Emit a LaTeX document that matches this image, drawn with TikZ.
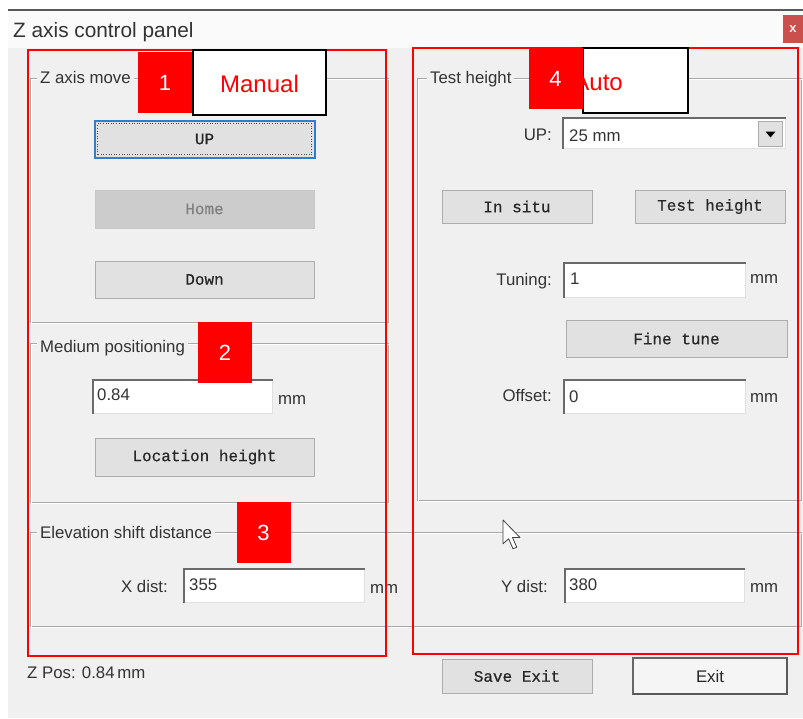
\documentclass[tikz,border=0pt]{standalone}
\usepackage{fontspec}
\setmainfont{Liberation Sans}
\newfontfamily\btnfont[FakeBold=0.5]{Liberation Mono}
\definecolor{dlgbg}{HTML}{F0F0F0}
\definecolor{titlebg}{HTML}{FAFAFA}
\definecolor{btnfill}{HTML}{E1E1E1}
\definecolor{btnedge}{HTML}{ADADAD}
\definecolor{etch}{HTML}{A8A8A8}
\definecolor{uitext}{HTML}{333333}
\definecolor{focusblue}{HTML}{2F7FCF}
\definecolor{closered}{HTML}{C9504C}
\definecolor{fieldedge}{HTML}{6A6A6A}
\definecolor{markred}{HTML}{FF0000}
\tikzset{
  uifont/.style={font=\fontsize{16.8}{19}\selectfont, text=uitext},
  uilabel/.style={uifont, inner sep=0pt},
  btnbox/.style={draw=btnedge, fill=btnfill, line width=1pt, inner sep=0pt,
    font=\btnfont\fontsize{16}{18}\selectfont, text=black!85},
  fieldbox/.style={fill=white, draw=black!12, line width=1pt, inner sep=0pt},
  groupcap/.style={uifont, fill=dlgbg, inner xsep=3pt, inner ysep=1pt, anchor=base west},
  marksq/.style={fill=markred, inner sep=0pt, minimum width=54pt, minimum height=61pt,
    text=white, font=\fontsize{22}{24}\selectfont},
  markword/.style={fill=white, draw=black, line width=1.5pt, inner sep=0pt},
  marktext/.style={text=markred, inner sep=0pt, font=\fontsize{24}{26}\selectfont},
  redframe/.style={draw=markred, line width=1.5pt},
}
\newcommand{\etchedbox}[2]{%
  \draw[etch, line width=1pt] #1 rectangle #2;
  \draw[white, line width=1pt, shift={(1,1)}] #1 rectangle #2;
}
\newcommand{\sunken}[1]{%
  \draw[fieldedge, line width=2pt] (#1.south west) |- (#1.north east);
}
\begin{document}
\begin{tikzpicture}[x=1pt, y=-1pt]
\useasboundingbox (0,0) rectangle (803,718);
% window background
\fill[white] (0,0) rectangle (803,718);
\fill[titlebg] (8,10) rectangle (803,48);
\fill[dlgbg] (8,48) rectangle (803,718);
\draw[black!65, line width=1.5pt] (8,10) -- (803,10);
\node[anchor=base west, inner sep=0pt, text=uitext, font=\fontsize{20.8}{22}\selectfont] (title) at (13,37) {Z axis control panel};
\node[fill=closered, minimum width=20pt, minimum height=28pt, inner sep=0pt, text=white!90!closered,
  font=\bfseries\fontsize{13}{14}\selectfont] (close) at (793,29) {x};

% group frames
\etchedbox{(30,78)}{(388,322)}
\etchedbox{(30,343)}{(388,502)}
\etchedbox{(30,532)}{(801,626)}
\etchedbox{(417,78)}{(801,500)}
\node[groupcap] (gzmove) at (37,83) {Z axis move};
\node[groupcap] (gmedium) at (37,352) {Medium positioning};
\node[groupcap] (gelev) at (37,538) {Elevation shift distance};
\node[groupcap] (gtest) at (427,83) {Test height};

% Z axis move buttons
\node[btnbox, minimum width=219pt, minimum height=36pt] (up) at (204.5,139) {UP};
\draw[focusblue, line width=2pt] (up.south west) rectangle (up.north east);
\draw[black!70, line width=0.6pt, dotted] ([shift={(3,-3)}]up.south west) rectangle ([shift={(-3,3)}]up.north east);
\node[btnbox, draw=black!22, fill=black!20, text=black!50, minimum width=219pt, minimum height=38pt] (home) at (204.5,209) {Home};
\node[btnbox, minimum width=219pt, minimum height=37pt] (down) at (204.5,279.5) {Down};

% medium positioning
\node[fieldbox, minimum width=179pt, minimum height=33pt] (fmed) at (182.5,396.5) {};
\sunken{fmed}
\node[uilabel, anchor=base west] (vmed) at (97,400) {0.84};
\node[uilabel, anchor=base west] (umed) at (278,404) {mm};
\node[btnbox, minimum width=219pt, minimum height=38pt] (loc) at (204.5,457) {Location height};

% elevation shift distance
\node[uilabel, anchor=base east] (lx) at (168,592) {X dist:};
\node[fieldbox, minimum width=180pt, minimum height=33pt] (fx) at (274,585.5) {};
\sunken{fx}
\node[uilabel, anchor=base west] (vx) at (189,590) {355};
\node[uilabel, anchor=base west] (ux) at (370,593) {mm};
\node[uilabel, anchor=base east] (ly) at (548,592) {Y dist:};
\node[fieldbox, minimum width=179pt, minimum height=33pt] (fy) at (654.5,585.5) {};
\sunken{fy}
\node[uilabel, anchor=base west] (vy) at (569,590) {380};
\node[uilabel, anchor=base west] (uy) at (750,592) {mm};

% test height
\node[uilabel, anchor=base east] (lup) at (552,140) {UP:};
\node[fieldbox, minimum width=222pt, minimum height=30pt] (fup) at (674,133) {};
\sunken{fup}
\node[uilabel, anchor=base west] (vup) at (569,141) {25 mm};
\node[fill=btnfill, draw=btnedge, line width=0.8pt, minimum width=24pt, minimum height=25pt, inner sep=0pt] (drop) at (770.5,133.5) {};
\fill[black] ([shift={(-5,-2)}]drop.center) -- ([shift={(5,-2)}]drop.center) -- ([shift={(0,4)}]drop.center) -- cycle;
\node[btnbox, minimum width=150pt, minimum height=33pt] (insitu) at (517,206.5) {In situ};
\node[btnbox, minimum width=150pt, minimum height=33pt] (testh) at (710,206.5) {Test height};
\node[uilabel, anchor=base east] (ltune) at (552,285) {Tuning:};
\node[fieldbox, minimum width=181pt, minimum height=34pt] (ftune) at (654.5,280) {};
\sunken{ftune}
\node[uilabel, anchor=base west] (vtune) at (570,284) {1};
\node[uilabel, anchor=base west] (utune) at (750,283) {mm};
\node[btnbox, minimum width=221pt, minimum height=37pt] (fine) at (676.5,338.5) {Fine tune};
\node[uilabel, anchor=base east] (loff) at (552,401) {Offset:};
\node[fieldbox, minimum width=181pt, minimum height=33pt] (foff) at (654.5,396.5) {};
\sunken{foff}
\node[uilabel, anchor=base west] (voff) at (569,402) {0};
\node[uilabel, anchor=base west] (uoff) at (750,402) {mm};

% bottom row
\node[uilabel, anchor=base west] (zpos) at (27,678) {Z Pos: 0.84\,mm};
\node[btnbox, minimum width=150pt, minimum height=34pt] (save) at (517,676) {Save Exit};
\node[btnbox, fill=black!4, draw=black!60, line width=1.5pt, font=\fontsize{16.8}{19}\selectfont, minimum width=154pt, minimum height=36pt] (exit) at (710,676) {Exit};
\draw[black!65, line width=2pt] ([shift={(1,-1)}]exit.south west) -| ([shift={(-1,1)}]exit.north east);

% mouse pointer
\begin{scope}[shift={(503,520)}, scale=1.25]
\draw[fill=white, draw=black!75, line width=0.8pt, line join=round]
  (0,0) -- (0,19) -- (4.5,15) -- (8,23) -- (11,21.8) -- (7.6,14) -- (13.6,14) -- cycle;
\end{scope}

% annotation frames
\draw[redframe] (28,50) rectangle (386,656);
\draw[redframe] (413,48) rectangle (798,654);
\node[markword, minimum width=133pt, minimum height=65pt] (wman) at (259.5,82.5) {};
\node[marktext, anchor=base] (tman) at (259.5,92) {Manual};
\node[marksq] (m1) at (165,82.5) {1};
\node[markword, minimum width=105pt, minimum height=65pt] (wauto) at (635.5,80.5) {};
\node[marktext, anchor=base east] (tauto) at (623,90) {Auto};
\node[marksq] (m4) at (555.5,78.5) {4};
\node[marksq] (m2) at (225,352.5) {2};
\node[marksq] (m3) at (263.5,532.5) {3};
\end{tikzpicture}
\end{document}
